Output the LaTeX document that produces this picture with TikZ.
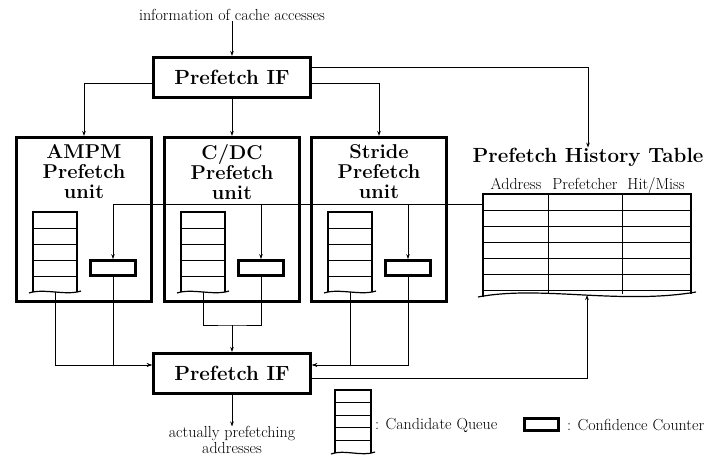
\documentclass[tikz,border=0pt]{standalone}
\usetikzlibrary{arrows.meta,positioning}

\tikzset{
  box/.style={draw, line width=3.2pt, inner sep=0pt},
  ifbox/.style={box, minimum width=157pt, minimum height=40pt, font=\fontsize{20.5}{20}\selectfont\bfseries},
  unitbox/.style={box, minimum width=135pt, minimum height=164pt},
  unittitle/.style={align=center, inner sep=0pt, font=\fontsize{20}{20}\selectfont\bfseries},
  counter/.style={draw, line width=2.8pt, minimum width=45pt, minimum height=15pt, inner sep=0pt},
  cell/.style={line width=0.9pt},
  qborder/.style={line width=2.8pt},
  wave/.style={line width=1.2pt},
  conn/.style={line width=0.8pt},
  arr/.style={conn, -{Stealth[length=5pt, width=3.6pt]}},
  txt/.style={inner sep=0pt, font=\fontsize{16}{14}\selectfont},
}

% 候选队列：#1 名称, #2 中心x, #3 顶部y, #4 宽度, #5 单元高度
\newcommand{\candqueue}[5]{%
  \foreach \k in {1,...,4}
    \draw[cell] ({#2-#4/2},{#3+\k*#5}) -- ++(#4,0);
  \draw[qborder] ({#2-#4/2},{#3+5*#5}) -- ({#2-#4/2},#3) -- ({#2+#4/2},#3) -- ({#2+#4/2},{#3+5*#5});
  \draw[wave] ({#2-#4/2-4},{#3+5*#5+1}) .. controls ({#2-#4/4},{#3+5*#5-4}) and ({#2+#4/4},{#3+5*#5+4}) .. ({#2+#4/2+4},{#3+5*#5-1});
  \coordinate (#1) at (#2,{#3+5*#5});
}

\begin{document}
\begin{tikzpicture}[x=1pt, y=-1pt]
    \useasboundingbox (0,0) rectangle (711,457);

    % 输入与顶部接口
    \node[txt] (info) at (232,15) {information of cache accesses};
    \node[ifbox] (ifTop) at (232,77.5) {Prefetch IF};

    % === 三个预取单元 ===
    \node[unitbox] (ampm) at (84,219.5) {};
    \node[unitbox] (cdc) at (232,219.5) {};
    \node[unitbox] (stride) at (379,219.5) {};
    \node[unittitle] at ([yshift=-36pt]ampm.north) {AMPM\\Prefetch\\unit};
    \node[unittitle] at ([yshift=-36pt]cdc.north) {C/DC\\Prefetch\\unit};
    \node[unittitle] at ([yshift=-36pt]stride.north) {Stride\\Prefetch\\unit};

    % 候选队列与置信计数器
    \candqueue{qA}{55}{212}{44}{16}
    \candqueue{qB}{203}{212}{44}{16}
    \candqueue{qC}{350}{212}{44}{16}
    \node[counter] (cntA) at (113,268) {};
    \node[counter] (cntB) at (261,268) {};
    \node[counter] (cntC) at (408,268) {};

    % === 预取历史表 ===
    \node[inner sep=0pt, font=\fontsize{20.5}{20}\selectfont\bfseries] (pht) at (588,157) {Prefetch History Table};
    \node[txt, anchor=base] (hAddr) at (516,189) {Address};
    \node[txt, anchor=base] (hPref) at (585,189) {Prefetcher};
    \node[txt, anchor=base] (hHit) at (656,189) {Hit/Miss};
    \foreach \y in {210,226,...,290}
        \draw[cell] (483,\y) -- (691,\y);
    \draw[cell] (548,194) -- (548,293);
    \draw[cell] (622,194) -- (622,294);
    \draw[qborder] (483,297) -- (483,194) -- (691,194) -- (691,294);
    \draw[wave] (478,297) .. controls (540,285) and (620,305) .. (696,292);
    \coordinate (tblIn) at (483,204);
    \coordinate (tblOut) at (587,295);

    % 底部接口与输出
    \node[ifbox] (ifBot) at (232,373.5) {Prefetch IF};
    \node[txt, align=center] (out) at (232,440) {actually prefetching\\addresses};

    % === 连线 ===
    \draw[arr] (info) -- (ifTop);
    \draw[arr] (ifTop) -- (cdc);
    \draw[arr] ([yshift=-5.5pt]ifTop.west) -| (ampm.north);
    \draw[arr] ([yshift=-5.5pt]ifTop.east) -| (stride.north);
    \draw[arr] ([yshift=10.5pt]ifTop.east) -| (pht);

    \draw[arr] (tblIn) -| (cntA.north);
    \draw[arr] (tblIn) -| (cntB.north);
    \draw[arr] (tblIn) -| (cntC.north);

    \draw[arr] (qA) |- ([yshift=8.5pt]ifBot.west);
    \draw[arr] (cntA.south) |- ([yshift=8.5pt]ifBot.west);
    \coordinate (jB) at (232,325);
    \draw[conn] (qB) |- (jB) -| (cntB.south);
    \draw[arr] (jB) -- (ifBot.north);
    \draw[arr] (qC) |- ([yshift=8.5pt]ifBot.east);
    \draw[arr] (cntC.south) |- ([yshift=8.5pt]ifBot.east);
    \draw[arr] ([yshift=-4.5pt]ifBot.east) -| (tblOut);
    \draw[arr] (ifBot) -- (out);

    % === 图例 ===
    \candqueue{lq}{353}{390}{36}{12.6}
    \node[txt, anchor=west] (lqText) at (375,425) {: Candidate Queue};
    \node[counter, minimum width=34pt, minimum height=12pt] (lc) at (541.5,424.5) {};
    \node[txt, anchor=west] (lcText) at (567,425) {: Confidence Counter};
\end{tikzpicture}
\end{document}
